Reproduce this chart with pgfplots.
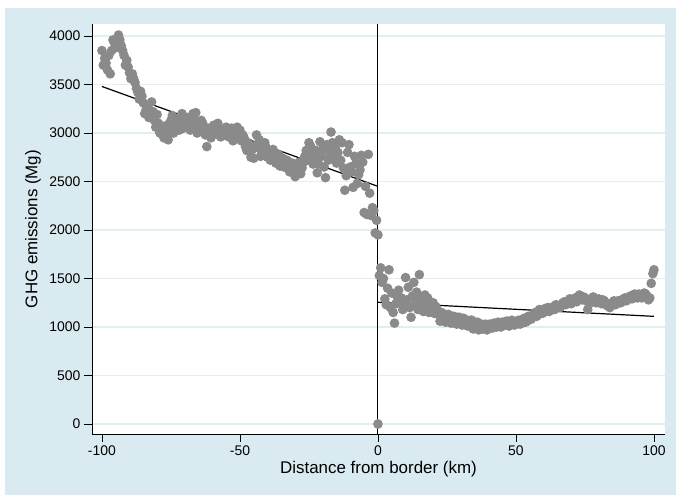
\documentclass[border=0pt]{standalone}
\usepackage{pgfplots}
\pgfplotsset{compat=1.18}
\usepackage{fontspec}
\setmainfont{Liberation Sans}
\definecolor{bgblue}{RGB}{217,235,240}
\definecolor{gridblue}{RGB}{224,239,244}
\definecolor{dotgray}{RGB}{138,138,138}
\begin{document}
\begin{tikzpicture}
\path[use as bounding box] (0,0) rectangle (676bp,495bp);
\fill[bgblue] (5bp,0) rectangle (676bp,487bp);
\begin{axis}[
  at={(92bp,61bp)}, anchor=south west,
  scale only axis, width=573bp, height=410bp,
  xmin=-103.6, xmax=104, ymin=-103, ymax=4124,
  axis background/.style={fill=white},
  axis x line*=bottom, axis y line*=left,
  axis line style={black, line width=0.8bp},
  xtick={-100,-50,0,50,100},
  xticklabels={-100,-50,0,50,100},
  ytick={0,500,...,4000},
  yticklabels={0,500,1000,1500,2000,2500,3000,3500,4000},
  tick align=outside, major tick length=8bp,
  tick style={black, line width=0.8bp},
  ymajorgrids, grid style={gridblue, line width=1.2bp},
  tick label style={font=\fontsize{14}{16}\selectfont},
  xlabel={Distance from border (km)},
  ylabel={GHG emissions (Mg)},
  label style={font=\fontsize{17}{20}\selectfont},
  xlabel style={at={(axis description cs:0.5,0)}, anchor=center, yshift=-35bp},
  ylabel style={at={(axis description cs:0,0.5)}, anchor=center, yshift=59bp},
  every axis plot/.append style={line width=1.2bp},
]
\addplot[only marks, mark=*, mark size=4.2bp, dotgray, mark options={draw=dotgray, fill=dotgray}] table {
x y
-100 3850
-99 3770
-98 3650
-97 3610
-96 3960
-95 3880
-94 4010
-93 3900
-92 3800
-91 3750
-90 3620
-89 3610
-88 3520
-87 3420
-86 3430
-85 3310
-84 3240
-83 3160
-82 3320
-81 3130
-80 3190
-79 3000
-78 2980
-77 3030
-76 2930
-75 3130
-74 3000
-73 3100
-72 3030
-71 3200
-70 3130
-69 3160
-68 3030
-67 3200
-66 3210
-65 3060
-64 3130
-63 3030
-62 2860
-61 3000
-60 3050
-59 3030
-58 3100
-57 2960
-56 3030
-55 3060
-54 2960
-53 3050
-52 3000
-51 3060
-50 3030
-49 2980
-48 2860
-47 2900
-46 2750
-45 2740
-44 2980
-43 2930
-42 2800
-41 2900
-40 2750
-39 2720
-38 2830
-37 2690
-36 2780
-35 2700
-34 2650
-33 2720
-32 2600
-31 2690
-30 2550
-29 2650
-28 2580
-27 2700
-26 2820
-25 2900
-24 2800
-23 2750
-22 2590
-21 2910
-20 2830
-19 2540
-18 2720
-17 3010
-16 2770
-15 2690
-14 2930
-13 2900
-12 2410
-11 2800
-10 2650
-9 2440
-8 2690
-7 2570
-6 2770
-5 2180
-4 2160
-3 2380
-2 2230
-1 1970
0 1950
0 0
-99.5 3700
-98.5 3720
-97.5 3800
-96.5 3850
-95.5 3930
-94.5 3920
-93.5 3960
-92.5 3850
-91.5 3700
-90.5 3680
-89.5 3560
-88.5 3560
-87.5 3460
-86.5 3350
-85.5 3380
-84.5 3200
-83.5 3280
-82.5 3180
-81.5 3220
-80.5 3060
-79.5 3100
-78.5 3050
-77.5 2950
-76.5 3080
-75.5 3020
-74.5 3180
-73.5 3050
-72.5 3150
-71.5 3080
-70.5 3050
-69.5 3100
-68.5 3120
-67.5 3080
-66.5 3130
-65.5 3000
-64.5 3080
-63.5 3100
-62.5 2980
-61.5 3050
-60.5 2950
-59.5 3080
-58.5 2990
-57.5 3040
-56.5 3000
-55.5 2980
-54.5 3050
-53.5 2980
-52.5 2920
-51.5 2990
-50.5 2960
-49.5 2920
-48.5 2950
-47.5 2820
-46.5 2860
-45.5 2830
-44.5 2870
-43.5 2850
-42.5 2760
-41.5 2820
-40.5 2850
-39.5 2800
-38.5 2740
-37.5 2760
-36.5 2700
-35.5 2660
-34.5 2740
-33.5 2680
-32.5 2700
-31.5 2620
-30.5 2660
-29.5 2600
-28.5 2700
-27.5 2640
-26.5 2760
-25.5 2720
-24.5 2870
-23.5 2680
-22.5 2820
-21.5 2680
-20.5 2760
-19.5 2650
-18.5 2880
-17.5 2800
-16.5 2900
-15.5 2850
-14.5 2800
-13.5 2720
-12.5 2640
-11.5 2560
-10.5 2880
-9.5 2600
-8.5 2760
-7.5 2480
-6.5 2620
-5.5 2700
-4.5 2450
-3.5 2780
-2.5 2150
-1.5 2200
-0.5 2100
1 1610
2 1500
3 1230
4 1590
5 1350
6 1040
7 1310
8 1250
9 1180
10 1510
11 1410
12 1100
13 1460
14 1360
15 1540
16 1260
17 1330
18 1300
19 1180
20 1250
21 1210
22 1130
23 1150
24 1100
25 1120
26 1090
27 1110
28 1080
29 1100
30 1070
31 1090
32 1060
33 1040
34 1070
35 1020
36 1050
37 1000
38 980
39 1030
40 990
41 1010
42 1040
43 1000
44 1030
45 1050
46 1020
47 1060
48 1030
49 1050
50 1040
51 1070
52 1040
53 1090
54 1060
55 1100
56 1120
57 1150
58 1130
59 1170
60 1150
61 1190
62 1160
63 1200
64 1180
65 1220
66 1200
67 1250
68 1230
69 1270
70 1240
71 1290
72 1260
73 1330
74 1280
75 1300
76 1180
77 1270
78 1310
79 1250
80 1290
81 1240
82 1270
83 1220
84 1200
85 1250
86 1230
87 1270
88 1250
89 1290
90 1270
91 1310
92 1290
93 1340
94 1300
95 1330
96 1310
97 1340
98 1280
99 1450
99.6 1550
100 1590
0.5 1530
1.5 1460
2.5 1290
3.5 1400
4.5 1200
5.5 1150
6.5 1240
7.5 1380
8.5 1300
9.5 1220
10.5 1280
11.5 1200
12.5 1320
13.5 1240
14.5 1180
15.5 1300
16.5 1160
17.5 1220
18.5 1150
19.5 1200
20.5 1140
21.5 1170
22.5 1060
23.5 1140
24.5 1050
25.5 1130
26.5 1040
27.5 1110
28.5 1030
29.5 1100
30.5 1020
31.5 1080
32.5 1010
33.5 1070
34.5 980
35.5 1040
36.5 970
37.5 1030
38.5 1010
39.5 970
40.5 1030
41.5 990
42.5 1020
43.5 1050
44.5 1000
45.5 1040
46.5 1060
47.5 1010
48.5 1070
49.5 1020
50.5 1060
51.5 1030
52.5 1080
53.5 1050
54.5 1110
55.5 1080
56.5 1140
57.5 1110
58.5 1180
59.5 1140
60.5 1190
61.5 1200
62.5 1190
63.5 1210
64.5 1230
65.5 1210
66.5 1230
67.5 1260
68.5 1250
69.5 1290
70.5 1270
71.5 1300
72.5 1310
73.5 1300
74.5 1310
75.5 1270
76.5 1240
77.5 1290
78.5 1280
79.5 1270
80.5 1260
81.5 1280
82.5 1250
83.5 1240
84.5 1230
85.5 1270
86.5 1260
87.5 1250
88.5 1280
89.5 1300
90.5 1290
91.5 1320
92.5 1300
93.5 1320
94.5 1340
95.5 1300
96.5 1350
97.5 1320
98.5 1300
};
\addplot[black, no marks] coordinates {(-100,3480) (0,2450)};
\addplot[black, no marks] coordinates {(0,1255) (100,1110)};
\addplot[black, no marks, line width=1bp] coordinates {(0,-103) (0,4124)};
\end{axis}
\end{tikzpicture}
\end{document}
